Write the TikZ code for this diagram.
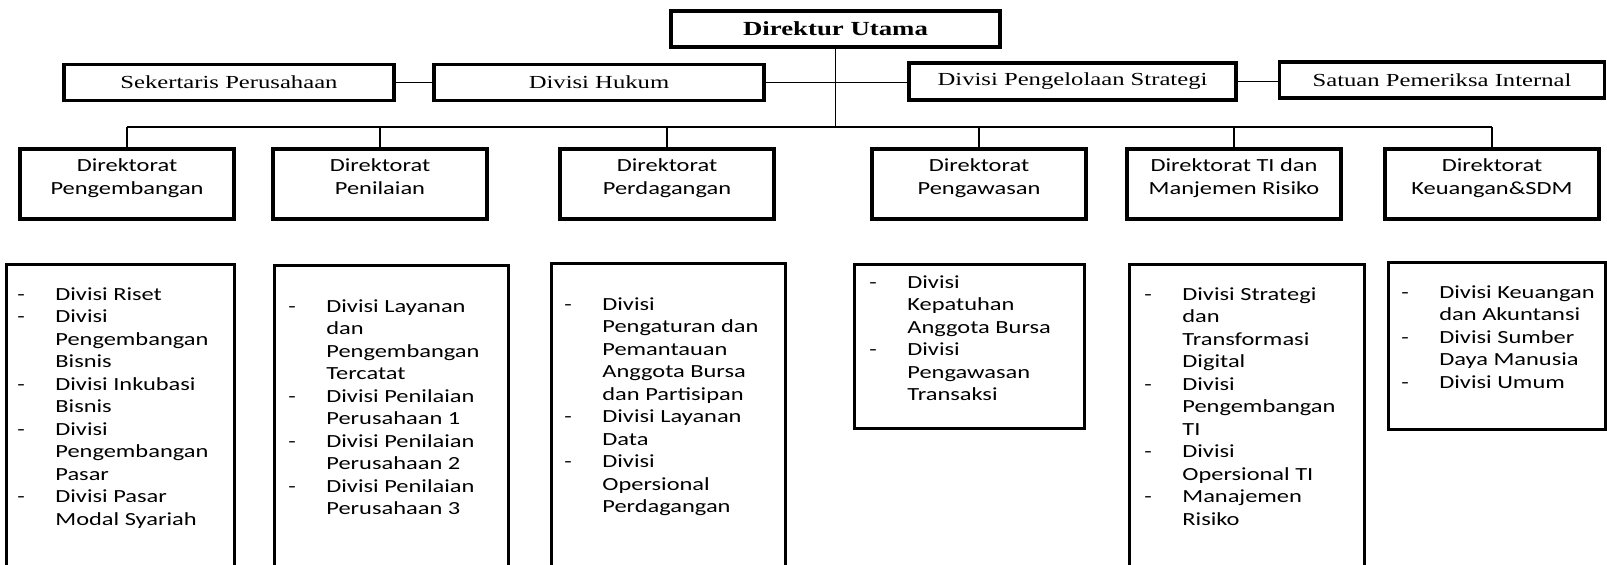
\documentclass[tikz,border=0pt]{standalone}
\usepackage{fontspec}
\setmainfont[FakeStretch=1.34]{Liberation Serif}
\newfontfamily\calf[FakeStretch=1.32]{Carlito}
\usetikzlibrary{calc}
\newcommand{\dlist}[1]{\begin{tabular}[t]{@{}p{19pt}@{}l@{}}#1\end{tabular}}
\newcommand{\dtwo}[1]{\begin{tabular}[t]{@{}c@{}}#1\end{tabular}}
\begin{document}
\begin{tikzpicture}[x=0.5pt,y=-0.5pt,
  topbox/.style={draw, line width=1.6pt, inner sep=0pt, font=\fontsize{9.2}{11}\selectfont},
  dirbox/.style={draw, line width=1.6pt, inner sep=0pt, minimum width=107pt, minimum height=35pt},
  listbox/.style={draw, line width=1.5pt, inner sep=0pt, anchor=north west},
  dirtext/.style={inner sep=0pt, anchor=base, font=\calf\fontsize{9.25}{11.5}\selectfont},
  listtext/.style={inner sep=0pt, anchor=base west, font=\calf\fontsize{9.25}{11.25}\selectfont},
  conn/.style={line width=0.75pt}]
\useasboundingbox (0,0) rectangle (1607,564);
\clip (0,0) rectangle (1607,564);

% top level
\node[topbox, minimum width=164.5pt, minimum height=18pt, font=\bfseries\fontsize{10}{12}\selectfont] (du) at (835.5,29) {Direktur Utama};
\node[topbox, minimum width=165pt, minimum height=18pt] (sek) at (229,82.5) {Sekertaris Perusahaan};
\node[topbox, minimum width=165pt, minimum height=18pt] (huk) at (599,82.5) {Divisi Hukum};
\node[topbox, minimum width=163.5pt, minimum height=18.5pt] (peng) at (1072.5,81.5) {Divisi Pengelolaan Strategi};
\node[topbox, minimum width=162.5pt, minimum height=18pt] (sat) at (1442,80) {Satuan Pemeriksa Internal};

\draw[conn] (sek.east) -- (huk.west);
\draw[conn] (huk.east) -- (huk.east -| peng.west);
\draw[conn] (peng.east) -- (peng.east -| sat.west);

% directorates
\node[dirbox] (d1) at (127,184) {};
\node[dirbox] (d2) at (380,184) {};
\node[dirbox] (d3) at (667,184) {};
\node[dirbox] (d4) at (979,184) {};
\node[dirbox] (d5) at (1234,184) {};
\node[dirbox] (d6) at (1492,184) {};

\node[dirtext] (d1t) at ($(d1.north)+(0,24)$) {\dtwo{Direktorat\\Pengembangan}};
\node[dirtext] (d2t) at ($(d2.north)+(0,24)$) {\dtwo{Direktorat\\Penilaian}};
\node[dirtext] (d3t) at ($(d3.north)+(0,24)$) {\dtwo{Direktorat\\Perdagangan}};
\node[dirtext] (d4t) at ($(d4.north)+(0,24)$) {\dtwo{Direktorat\\Pengawasan}};
\node[dirtext] (d5t) at ($(d5.north)+(0,24)$) {\dtwo{Direktorat TI dan\\Manjemen Risiko}};
\node[dirtext] (d6t) at ($(d6.north)+(0,24)$) {\dtwo{Direktorat\\Keuangan\&SDM}};

% bus
\coordinate (busL) at (127,127);
\coordinate (busR) at (1492,127);
\draw[conn] (du.south) -- (du.south |- busL);
\draw[conn] (busL) -- (busR);
\foreach \d in {d1,d2,d3,d4,d5,d6} {
  \draw[conn] (\d.north |- busL) -- (\d.north);
}

% lower lists
\node[listbox, minimum width=114pt, minimum height=158.5pt] (b1) at (5,263) {};
\node[listbox, minimum width=117pt, minimum height=158pt] (b2) at (273,264) {};
\node[listbox, minimum width=117pt, minimum height=159pt] (b3) at (550,262) {};
\node[listbox, minimum width=115pt, minimum height=82pt] (b4) at (853,263) {};
\node[listbox, minimum width=117.5pt, minimum height=158.5pt] (b5) at (1128,263) {};
\node[listbox, minimum width=108.5pt, minimum height=83.5pt] (b6) at (1387,261) {};

\node[listtext] (l1) at ($(b1.north west)+(12,37)$) {\dlist{-&Divisi Riset\\ -&Divisi\\ &Pengembangan\\ &Bisnis\\ -&Divisi Inkubasi\\ &Bisnis\\ -&Divisi\\ &Pengembangan\\ &Pasar\\ -&Divisi Pasar\\ &Modal Syariah}};
\node[listtext] (l2) at ($(b2.north west)+(15,48)$) {\dlist{-&Divisi Layanan\\ &dan\\ &Pengembangan\\ &Tercatat\\ -&Divisi Penilaian\\ &Perusahaan 1\\ -&Divisi Penilaian\\ &Perusahaan 2\\ -&Divisi Penilaian\\ &Perusahaan 3}};
\node[listtext] (l3) at ($(b3.north west)+(14,48)$) {\dlist{-&Divisi\\ &Pengaturan dan\\ &Pemantauan\\ &Anggota Bursa\\ &dan Partisipan\\ -&Divisi Layanan\\ &Data\\ -&Divisi\\ &Opersional\\ &Perdagangan}};
\node[listtext] (l4) at ($(b4.north west)+(16,25)$) {\dlist{-&Divisi\\ &Kepatuhan\\ &Anggota Bursa\\ -&Divisi\\ &Pengawasan\\ &Transaksi}};
\node[listtext] (l5) at ($(b5.north west)+(16,37)$) {\dlist{-&Divisi Strategi\\ &dan\\ &Transformasi\\ &Digital\\ -&Divisi\\ &Pengembangan\\ &TI\\ -&Divisi\\ &Opersional TI\\ -&Manajemen\\ &Risiko}};
\node[listtext] (l6) at ($(b6.north west)+(14,37)$) {\dlist{-&Divisi Keuangan\\ &dan Akuntansi\\ -&Divisi Sumber\\ &Daya Manusia\\ -&Divisi Umum}};
\end{tikzpicture}
\end{document}
